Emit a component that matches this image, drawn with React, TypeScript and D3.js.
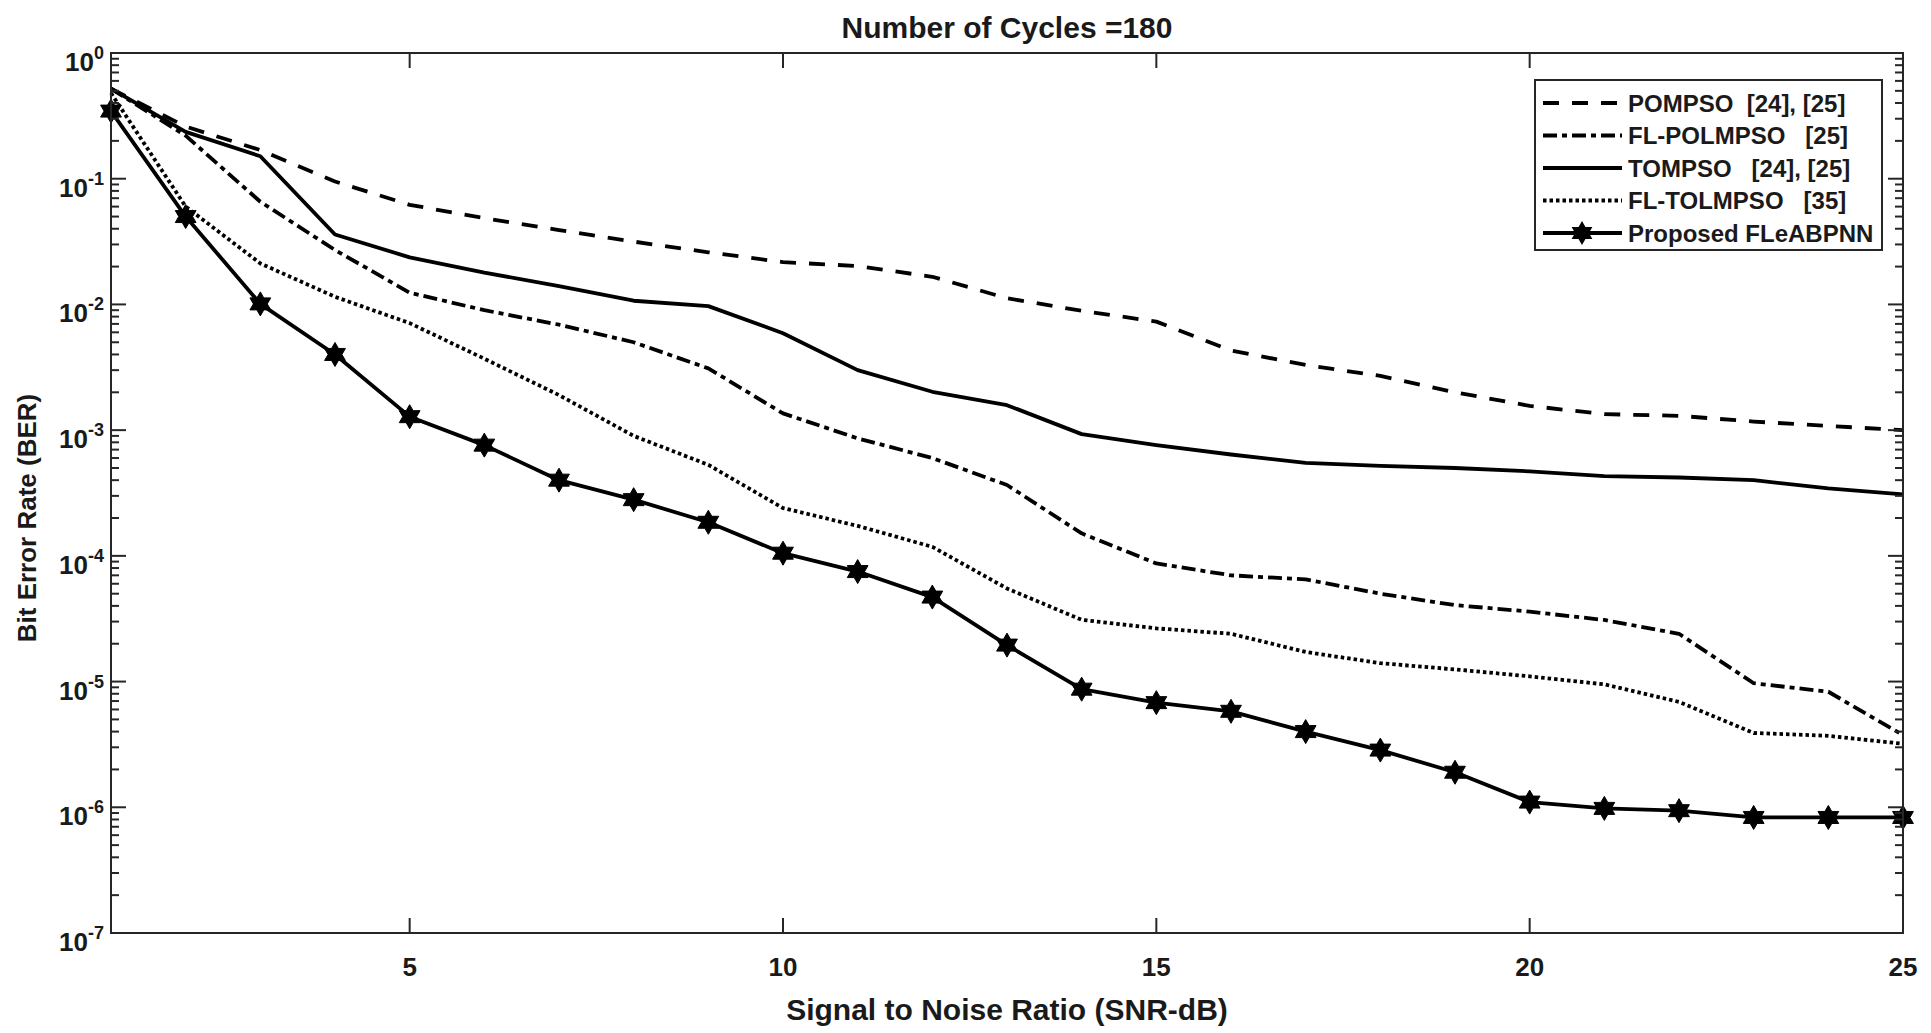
import { useEffect, useRef } from "react"
import * as d3 from "d3"

// SNR values on the x axis (dB)
const snrDb = [1, 2, 3, 4, 5, 6, 7, 8, 9, 10, 11, 12, 13, 14, 15, 16, 17, 18, 19, 20, 21, 22, 23, 24, 25]

// BER values
const pompso = [
  0.52, 0.26, 0.169, 0.095, 0.062, 0.0486, 0.039, 0.0316, 0.026, 0.0217, 0.0202, 0.0166, 0.0112, 0.0089, 0.0073,
  0.0043, 0.0033, 0.0027, 0.002, 0.00156, 0.00134, 0.0013, 0.00117, 0.00108, 0.001,
]
const flPolmpso = [
  0.52, 0.22, 0.0656, 0.0271, 0.0124, 0.009, 0.0069, 0.005, 0.0031, 0.00136, 0.00086, 0.0006, 0.000366, 0.000151,
  0.000087, 0.00007, 0.000065, 0.00005, 0.0000406, 0.000036, 0.0000309, 0.000024, 0.0000097, 0.0000083, 0.00000375,
]
const tompso = [
  0.52, 0.236, 0.151, 0.036, 0.0237, 0.0179, 0.014, 0.0107, 0.0097, 0.0059, 0.003, 0.00202, 0.00158, 0.00093, 0.00076,
  0.00064, 0.00055, 0.00052, 0.0005, 0.00047, 0.00043, 0.00042, 0.0004, 0.000344, 0.000308,
]
const flTolmpso = [
  0.48, 0.06, 0.0212, 0.0115, 0.0071, 0.0037, 0.0019, 0.0009, 0.00053, 0.00024, 0.000173, 0.000118, 0.000055, 0.000031,
  0.0000265, 0.000024, 0.0000172, 0.000014, 0.0000125, 0.000011, 0.0000095, 0.0000069, 0.0000039, 0.0000037, 0.0000032,
]
const proposed = [
  0.345, 0.05, 0.0101, 0.004, 0.00128, 0.00076, 0.0004, 0.00028, 0.000185, 0.000105, 0.000075, 0.000047, 0.0000195,
  0.0000087, 0.0000068, 0.0000058, 0.000004, 0.00000285, 0.0000019, 0.0000011, 0.00000098, 0.00000094, 0.00000083,
  0.00000083, 0.00000083,
]

const legendLabels = [
  "POMPSO  [24], [25]",
  "FL-POLMPSO   [25]",
  "TOMPSO   [24], [25]",
  "FL-TOLMPSO   [35]",
  "Proposed FLeABPNN",
]
const xTicks = [5, 10, 15, 20, 25]
const yExponents = [0, -1, -2, -3, -4, -5, -6, -7]

const W = 1931
const H = 1033
const FONT = "'Liberation Sans', Arial, Helvetica, sans-serif"

// hexagram marker (MATLAB 'h')
function hexagram(cx: number, cy: number, rOut: number) {
  const rIn = rOut / Math.sqrt(3)
  const pts: [number, number][] = []
  for (let i = 0; i < 12; i++) {
    const a = (i * Math.PI) / 6 - Math.PI / 2
    const r = i % 2 === 0 ? rOut : rIn
    pts.push([cx + r * Math.cos(a), cy + r * Math.sin(a)])
  }
  return "M" + pts.map((p) => p.join(",")).join("L") + "Z"
}

export default function App() {
  const svgRef = useRef<SVGSVGElement>(null)

  useEffect(() => {
    if (!svgRef.current) return
    const svg = d3.select(svgRef.current)
    svg.selectAll("*").remove()

    const left = 111
    const right = 1903
    const top = 53
    const bottom = 933

    const x = d3.scaleLinear().domain([1, 25]).range([left, right])
    const y = d3.scaleLog().domain([1e-7, 1]).range([bottom, top])

    svg.append("rect").attr("width", W).attr("height", H).attr("fill", "#fff")

    const series = [
      { values: pompso, dash: "16,13" },
      { values: flPolmpso, dash: "14,5,5,5" },
      { values: tompso, dash: null },
      { values: flTolmpso, dash: "3.5,3" },
      { values: proposed, dash: null },
    ]

    const line = d3
      .line<number>()
      .x((_, i) => x(snrDb[i]))
      .y((d) => y(d))

    series.forEach((s) => {
      svg
        .append("path")
        .attr("d", line(s.values) as string)
        .attr("fill", "none")
        .attr("stroke", "#000")
        .attr("stroke-width", 3.8)
        .attr("stroke-linejoin", "round")
        .attr("stroke-dasharray", s.dash)
    })

    // star markers on the proposed curve
    svg
      .append("g")
      .selectAll("path")
      .data(proposed)
      .join("path")
      .attr("d", (d, i) => hexagram(x(snrDb[i]), y(d), 12))
      .attr("fill", "#000")
      .attr("stroke", "#000")
      .attr("stroke-width", 1)

    // frame
    svg
      .append("rect")
      .attr("x", left)
      .attr("y", top)
      .attr("width", right - left)
      .attr("height", bottom - top)
      .attr("fill", "none")
      .attr("stroke", "#262626")
      .attr("stroke-width", 2)

    const ticks = svg.append("g").attr("stroke", "#262626").attr("stroke-width", 2)

    // x ticks (inside, bottom and top)
    xTicks.forEach((t) => {
      ticks.append("line").attr("x1", x(t)).attr("x2", x(t)).attr("y1", bottom).attr("y2", bottom - 15)
      ticks.append("line").attr("x1", x(t)).attr("x2", x(t)).attr("y1", top).attr("y2", top + 15)
    })

    // y ticks (major decades + minor 2..9)
    yExponents.forEach((e) => {
      const v = Math.pow(10, e)
      ticks.append("line").attr("x1", left).attr("x2", left + 15).attr("y1", y(v)).attr("y2", y(v))
      ticks.append("line").attr("x1", right).attr("x2", right - 15).attr("y1", y(v)).attr("y2", y(v))
      if (e === 0) return
      for (let m = 2; m <= 9; m++) {
        const mv = m * v
        ticks.append("line").attr("x1", left).attr("x2", left + 8).attr("y1", y(mv)).attr("y2", y(mv))
        ticks.append("line").attr("x1", right).attr("x2", right - 8).attr("y1", y(mv)).attr("y2", y(mv))
      }
    })

    const txt = svg.append("g").attr("font-family", FONT).attr("font-weight", "bold").attr("fill", "#1a1a1a")

    // x tick labels
    xTicks.forEach((t) => {
      txt
        .append("text")
        .attr("x", x(t))
        .attr("y", 976)
        .attr("text-anchor", "middle")
        .attr("font-size", 26)
        .text(String(t))
    })

    // y tick labels 10^e
    yExponents.forEach((e) => {
      const ty = y(Math.pow(10, e))
      const t = txt
        .append("text")
        .attr("x", 104)
        .attr("y", ty + 18)
        .attr("text-anchor", "end")
        .attr("font-size", 26)
      t.append("tspan").text("10")
      t.append("tspan").attr("dy", -12).attr("font-size", 18).text(String(e))
    })

    // title and axis labels
    txt
      .append("text")
      .attr("x", (left + right) / 2)
      .attr("y", 38)
      .attr("text-anchor", "middle")
      .attr("font-size", 30)
      .text("Number of Cycles =180")

    txt
      .append("text")
      .attr("x", (left + right) / 2)
      .attr("y", 1020)
      .attr("text-anchor", "middle")
      .attr("font-size", 30)
      .text("Signal to Noise Ratio (SNR-dB)")

    txt
      .append("text")
      .attr("transform", "translate(36,518) rotate(-90)")
      .attr("text-anchor", "middle")
      .attr("font-size", 26)
      .text("Bit Error Rate (BER)")

    // legend
    const lg = svg.append("g")
    lg.append("rect")
      .attr("x", 1535)
      .attr("y", 80)
      .attr("width", 347)
      .attr("height", 170)
      .attr("fill", "#fff")
      .attr("stroke", "#262626")
      .attr("stroke-width", 2)

    legendLabels.forEach((label, i) => {
      const cy = 103 + i * 32.5
      lg.append("line")
        .attr("x1", 1543)
        .attr("x2", 1622)
        .attr("y1", cy)
        .attr("y2", cy)
        .attr("stroke", "#000")
        .attr("stroke-width", 4)
        .attr("stroke-dasharray", series[i].dash)
      if (i === 4) {
        lg.append("path").attr("d", hexagram(1582, cy, 12)).attr("fill", "#000")
      }
      lg.append("text")
        .attr("x", 1628)
        .attr("y", cy + 8.5)
        .attr("font-family", FONT)
        .attr("font-weight", "bold")
        .attr("font-size", 24)
        .attr("fill", "#1a1a1a")
        .style("white-space", "pre")
        .text(label)
    })
  }, [])

  return (
    <div style={{ position: "absolute", left: 0, top: 0 }}>
      <svg ref={svgRef} width={W} height={H}></svg>
    </div>
  )
}
